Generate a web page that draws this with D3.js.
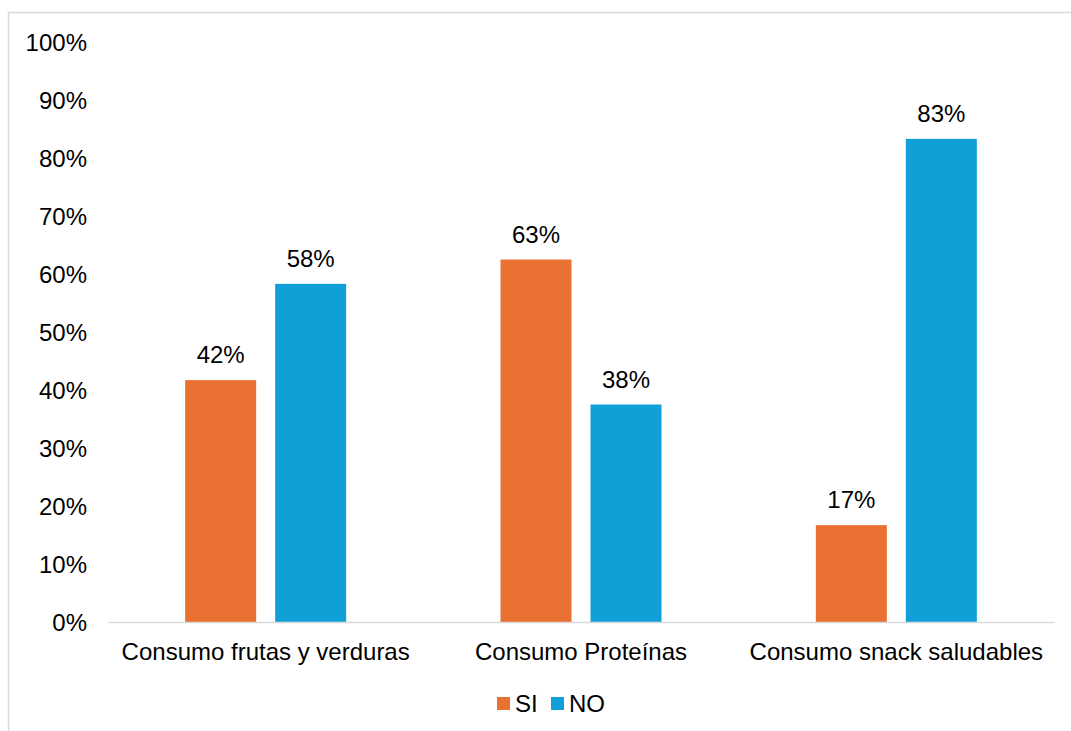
<!DOCTYPE html>
<html>
<head>
<meta charset="utf-8">
<script src="https://cdn.jsdelivr.net/npm/d3@7"></script>
<style>
  html, body { margin: 0; padding: 0; background: #fff; }
  svg { display: block; font-family: "Liberation Sans", Arial, sans-serif; }
</style>
</head>
<body>
<svg id="chart" width="1071" height="731"></svg>
<script>
// Chart data
const categories = ["Consumo frutas y verduras", "Consumo Proteínas", "Consumo snack saludables"];
const seriesNames = ["SI", "NO"];
const siValues = [41.7, 62.5, 16.7];
const noValues = [58.3, 37.5, 83.3];
const valueLabels = [["42%", "58%"], ["63%", "38%"], ["17%", "83%"]];
const yTicks = [0, 10, 20, 30, 40, 50, 60, 70, 80, 90, 100];
const colors = { SI: "#E97132", NO: "#119FD7" };

const svg = d3.select("#chart");
const fontSize = 24;

// Outer chart frame (only top and left edges fall inside the view)
svg.append("rect")
  .attr("x", 8.5).attr("y", 12.5)
  .attr("width", 1100).attr("height", 800)
  .attr("fill", "none").attr("stroke", "#d9d9d9").attr("stroke-width", 1.5);

const plot = { left: 108, right: 1054, top: 42, bottom: 622 };

const x = d3.scaleBand().domain(categories).range([plot.left, plot.right]).padding(0);
const inner = d3.scaleBand().domain(seriesNames).range([-80.5, 80.5]).paddingInner(19 / 90).paddingOuter(0);
const y = d3.scaleLinear().domain([0, 100]).range([plot.bottom, plot.top]);

// Y axis labels
const yAxis = d3.axisLeft(y).tickValues(yTicks).tickFormat(d => d + "%").tickSize(0).tickPadding(0);
const yg = svg.append("g").attr("transform", "translate(87,0)").call(yAxis);
yg.select(".domain").remove();
yg.selectAll("text")
  .attr("font-size", fontSize).attr("fill", "#000")
  .attr("font-family", "Liberation Sans, Arial, sans-serif")
  .attr("dy", "0.36em");

// Bars
const rows = categories.map((c, i) => ({ cat: c, vals: [
  { s: "SI", v: siValues[i], label: valueLabels[i][0] },
  { s: "NO", v: noValues[i], label: valueLabels[i][1] }
]}));

const groups = svg.append("g").selectAll("g").data(rows).join("g")
  .attr("transform", d => `translate(${x(d.cat) + x.bandwidth() / 2},0)`);

groups.selectAll("rect").data(d => d.vals).join("rect")
  .attr("x", d => inner(d.s))
  .attr("width", inner.bandwidth())
  .attr("y", d => y(d.v))
  .attr("height", d => y(0) - y(d.v))
  .attr("fill", d => colors[d.s]);

groups.selectAll("text").data(d => d.vals).join("text")
  .attr("x", d => inner(d.s) + inner.bandwidth() / 2)
  .attr("y", d => y(d.v) - 17)
  .attr("text-anchor", "middle")
  .attr("font-size", fontSize)
  .attr("fill", "#000")
  .text(d => d.label);

// X axis baseline and category labels
const xAxis = d3.axisBottom(x).tickSize(0).tickPadding(0);
const xg = svg.append("g").attr("transform", `translate(0,${plot.bottom})`).call(xAxis);
xg.select(".domain").attr("stroke", "#d9d9d9").attr("stroke-width", 1.5);
xg.selectAll("text")
  .attr("font-size", fontSize).attr("fill", "#000")
  .attr("font-family", "Liberation Sans, Arial, sans-serif")
  .attr("dy", null).attr("y", 38);

// Legend
const legendItems = [
  { s: "SI", sx: 497, tx: 515 },
  { s: "NO", sx: 551, tx: 569 }
];
const lg = svg.append("g");
lg.selectAll("rect").data(legendItems).join("rect")
  .attr("x", d => d.sx).attr("y", 697).attr("width", 13).attr("height", 13)
  .attr("fill", d => colors[d.s]);
lg.selectAll("text").data(legendItems).join("text")
  .attr("x", d => d.tx).attr("y", 712)
  .attr("font-size", fontSize).attr("fill", "#000")
  .text(d => d.s);
</script>
</body>
</html>
